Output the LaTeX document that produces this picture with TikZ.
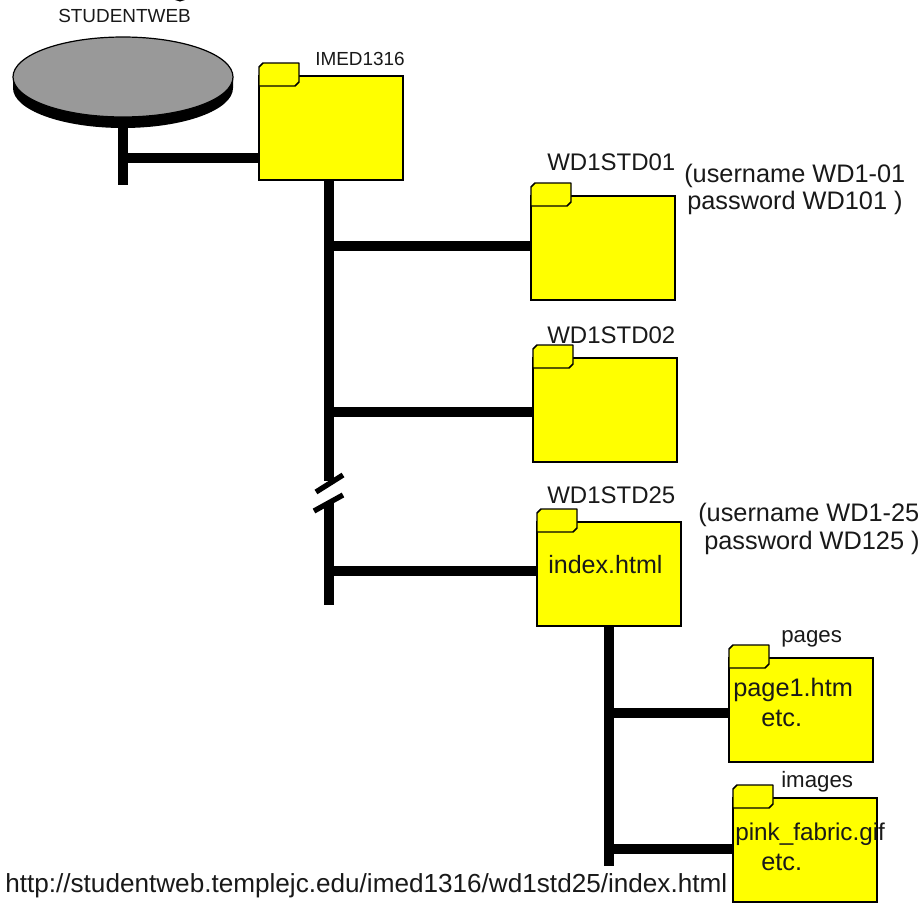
\documentclass[tikz,border=0pt]{standalone}
\usepackage{fontspec}
\usetikzlibrary{shapes.geometric}
\setmainfont{Liberation Sans}
\definecolor{folderyellow}{RGB}{255,255,0}
\definecolor{diskgray}{RGB}{153,153,153}
\definecolor{inktext}{RGB}{25,25,25}
\newcommand{\foldertab}[1]{%
  \draw[tabline] (#1.north west) ++(0,10) -- ++(0,-19) -- ++(4,-4) -- ++(36,0) -- ++(0,19) -- ++(-4,4) -- cycle;}
\tikzset{
  x=0.75pt,y=-0.75pt,
  folder/.style={draw=black,fill=folderyellow,line width=1.1pt,rectangle,inner sep=0pt,outer sep=0pt,minimum width=108pt,minimum height=78pt},
  tabline/.style={draw=black,fill=folderyellow,line width=1.1pt,line join=round},
  bar/.style={draw=black,line width=7.5pt},
  slash/.style={draw=black,line width=4pt},
  big/.style={font=\fontsize{18.8pt}{22pt}\selectfont,inner sep=0pt,anchor=west,text=inktext},
  inner/.style={font=\fontsize{19pt}{22pt}\selectfont,inner sep=0pt,anchor=west,text=inktext},
  mid/.style={font=\fontsize{16.7pt}{20pt}\selectfont,inner sep=0pt,anchor=west,text=inktext},
  stdlabel/.style={font=\fontsize{18pt}{20pt}\selectfont,inner sep=0pt,anchor=west,text=inktext},
  small/.style={font=\fontsize{14.2pt}{17pt}\selectfont,inner sep=0pt,anchor=west,text=inktext},
}
\begin{document}
\begin{tikzpicture}
\useasboundingbox (0,0) rectangle (922,903);
\fill[white] (0,0) rectangle (922,903);
% clipped remnant at the top edge
\begin{scope}
\clip (160,0) rectangle (195,4);
\draw[black,line width=1.8pt] (173,-5) .. controls (175,2) and (185,2) .. (187,-5);
\end{scope}
% disk
\fill[black] (13,77) -- (13,88) arc[start angle=180,end angle=0,x radius=110,y radius=40] -- (233,77) -- cycle;
\node[ellipse,draw=black,fill=diskgray,line width=0.9pt,minimum width=165pt,minimum height=60pt,inner sep=0pt,outer sep=0pt] (disk) at (123,77) {};
\coordinate (diskbase) at (123,117);
\coordinate (diskend) at (123,185);
\coordinate (diskj) at (123,158);
% folders
\node[folder,anchor=north west] (imed) at (259,76) {};
\node[folder,anchor=north west] (std01) at (531,196) {};
\node[folder,anchor=north west] (std02) at (533,358) {};
\node[folder,anchor=north west] (std25) at (537,522) {};
\node[folder,anchor=north west] (pages) at (729,658) {};
\node[folder,anchor=north west] (images) at (733,798) {};
% connector junctions
\coordinate (mainTop) at (329,180);
\coordinate (breakA) at (329,481);
\coordinate (breakB) at (329,503);
\coordinate (mainEnd) at (329,605);
\coordinate (j01) at (329,246);
\coordinate (j02) at (329,412);
\coordinate (j25) at (329,571);
\coordinate (subTop) at (609,626);
\coordinate (subEnd) at (609,866);
\coordinate (jp) at (609,713);
\coordinate (ji) at (609,849);
\coordinate (s1a) at (316,492);
\coordinate (s1b) at (343,475);
\coordinate (s2a) at (314,511);
\coordinate (s2b) at (343,495);
\draw[bar] (diskbase) -- (diskend);
\draw[bar] (diskj) -- (diskj -| imed.west);
\draw[bar] (mainTop) -- (breakA);
\draw[bar] (breakB) -- (mainEnd);
\draw[slash] (s1a) -- (s1b);
\draw[slash] (s2a) -- (s2b);
\draw[bar] (j01) -- (j01 -| std01.west);
\draw[bar] (j02) -- (j02 -| std02.west);
\draw[bar] (j25) -- (j25 -| std25.west);
\draw[bar] (subTop) -- (subEnd);
\draw[bar] (jp) -- (jp -| pages.west);
\draw[bar] (ji) -- (ji -| images.west);
% tabs
\foldertab{imed}
\foldertab{std01}
\foldertab{std02}
\foldertab{std25}
\foldertab{pages}
\foldertab{images}
% labels
\node[small] (lstudent) at (58,16) {STUDENTWEB};
\node[small] (limed) at (315,59) {IMED1316};
\node[stdlabel] (l01) at (547,162) {WD1STD01};
\node[stdlabel] (l02) at (547,335) {WD1STD02};
\node[stdlabel] (l25) at (547,495) {WD1STD25};
\node[inner] (u01) at (684,176) {(username WD1-01};
\node[inner] (p01) at (687,203) {password WD101 )};
\node[inner] (u25) at (698,515) {(username WD1-25};
\node[inner] (p25) at (704,543) {password WD125 )};
\node[big] (tindex) at (548,565) {index.html};
\node[mid] (lpages) at (781,639) {pages};
\node[inner] (tpage) at (733,690) {page1.htm};
\node[inner] (tetc1) at (761,718) {etc.};
\node[mid] (limages) at (781,782) {images};
\node[inner,font=\fontsize{18.2pt}{22pt}\selectfont] (tpink) at (735,834) {pink\_fabric.gif};
\node[inner] (tetc2) at (761,862) {etc.};
\node[big,font=\fontsize{19.6pt}{22pt}\selectfont] (url) at (5,886) {http://studentweb.templejc.edu/imed1316/wd1std25/index.html};
\end{tikzpicture}
\end{document}
